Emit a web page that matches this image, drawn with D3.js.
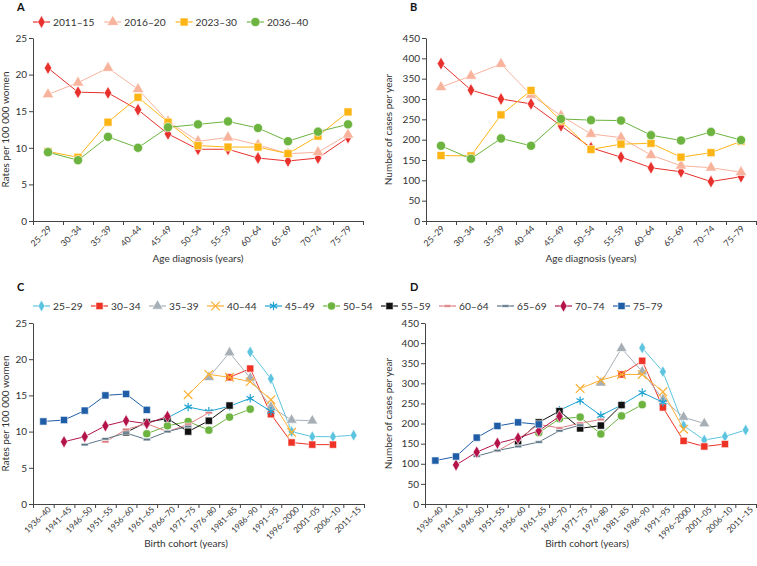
<!DOCTYPE html>
<html><head><meta charset="utf-8">
<script src="https://cdn.jsdelivr.net/npm/d3@7"></script>
<style>
body{margin:0;background:#fff;}
svg text{font-family:Lato,"Open Sans",sans-serif;fill:#333;}
</style>
</head><body>
<svg id="c" width="757" height="566"></svg>
<script>
// ---------- DATA ----------
const ageGroups = ["25–29","30–34","35–39","40–44","45–49","50–54","55–59","60–64","65–69","70–74","75–79"];
const periods = ["2011–15","2016–20","2023–30","2036–40"];

// Panel A: rates per 100 000 women by age at diagnosis
const rateP2011 = [20.9,17.6,17.5,15.2,11.9,9.8,9.8,8.6,8.2,8.6,11.4];
const rateP2016 = [17.3,18.9,20.9,18.0,13.6,10.9,11.4,10.4,9.2,9.4,11.8];
const rateP2023 = [9.5,8.7,13.5,16.9,13.5,10.3,10.1,10.1,9.2,11.6,14.9];
const rateP2036 = [9.4,8.3,11.5,10.0,12.8,13.2,13.6,12.7,10.9,12.2,13.2];

// Panel B: number of cases per year by age at diagnosis
const casesP2011 = [387,322,300,288,234,180,157,131,121,97,109];
const casesP2016 = [329,357,386,310,259,214,205,162,136,131,120];
const casesP2023 = [161,160,261,321,246,176,189,191,157,168,196];
const casesP2036 = [185,153,203,185,251,248,247,211,198,219,199];

// Panels C and D: by birth cohort
const cohorts = ["1936–40","1941–45","1946–50","1951–55","1956–60","1961–65","1966–70","1971–75","1976–80","1981–85","1986–90","1991–95","1996–2000","2001–05","2006–10","2011–15"];
const _ = null;
const rateA2529 = [_,_,_,_,_,_,_,_,_,_,21.0,17.3,10.0,9.3,9.3,9.5];
const rateA3034 = [_,_,_,_,_,_,_,_,_,17.5,18.7,12.4,8.5,8.2,8.2,_];
const rateA3539 = [_,_,_,_,_,_,_,_,17.5,20.9,17.4,13.4,11.6,11.5,_,_];
const rateA4044 = [_,_,_,_,_,_,_,15.1,17.9,17.5,16.9,14.4,9.9,_,_,_];
const rateA4549 = [_,_,_,_,_,_,11.9,13.4,12.8,13.5,14.6,12.8,_,_,_,_];
const rateA5054 = [_,_,_,_,_,9.7,10.8,11.4,10.2,12.0,13.1,_,_,_,_,_];
const rateA5559 = [_,_,_,_,9.9,11.3,11.8,10.0,11.5,13.6,_,_,_,_,_,_];
const rateA6064 = [_,_,_,8.6,10.3,11.1,10.0,11.0,12.6,_,_,_,_,_,_,_];
const rateA6569 = [_,_,8.2,9.0,9.8,8.9,10.0,10.7,_,_,_,_,_,_,_,_];
const rateA7074 = [_,8.6,9.3,10.8,11.5,11.1,12.1,_,_,_,_,_,_,_,_,_];
const rateA7579 = [11.4,11.6,12.9,15.0,15.2,13.0,_,_,_,_,_,_,_,_,_,_];

const casesA2529 = [_,_,_,_,_,_,_,_,_,_,388,329,195,159,168,184];
const casesA3034 = [_,_,_,_,_,_,_,_,_,322,356,240,157,143,149,_];
const casesA3539 = [_,_,_,_,_,_,_,_,301,387,329,260,216,200,_,_];
const casesA4044 = [_,_,_,_,_,_,_,287,308,322,322,279,186,_,_,_];
const casesA4549 = [_,_,_,_,_,_,233,257,220,246,277,253,_,_,_,_];
const casesA5054 = [_,_,_,_,_,177,212,216,174,219,247,_,_,_,_,_];
const casesA5559 = [_,_,_,_,156,203,231,188,195,246,_,_,_,_,_,_];
const casesA6064 = [_,_,_,132,161,198,189,201,210,_,_,_,_,_,_,_];
const casesA6569 = [_,_,119,133,143,154,182,196,_,_,_,_,_,_,_,_];
const casesA7074 = [_,97,129,151,164,182,218,_,_,_,_,_,_,_,_,_];
const casesA7579 = [108,118,165,194,203,198,_,_,_,_,_,_,_,_,_,_];

const rateTicks = [0,5,10,15,20,25];
const casesTicks = [0,50,100,150,200,250,300,350,400,450];

// ---------- STYLES ----------
const periodStyle = [
  {color:"#e8302c", shape:"diamond", size:48},
  {color:"#f8b39c", shape:"triangle", size:58},
  {color:"#fdb515", shape:"square", size:64},
  {color:"#6cb43f", shape:"circle", size:66}
];
const ageStyle = [
  {color:"#5cc4df", shape:"diamond", size:40},
  {color:"#ee3226", shape:"square", size:52},
  {color:"#a7afb6", shape:"triangle", size:52},
  {color:"#fbb034", shape:"times", size:50},
  {color:"#1fa3d3", shape:"asterisk", size:50},
  {color:"#6cb43f", shape:"circle", size:52},
  {color:"#111111", shape:"square", size:52},
  {color:"#de7c80", shape:"dash", size:0},
  {color:"#5b7585", shape:"dash", size:0},
  {color:"#b4134a", shape:"diamond", size:44},
  {color:"#1f5ea6", shape:"square", size:52}
];

const svg = d3.select("#c");

function symPath(shape, size){
  if(shape==="dash") return "M-3.6,-1.3h7.2v2.6h-7.2z";
  const t = {diamond:d3.symbolDiamond, triangle:d3.symbolTriangle, square:d3.symbolSquare,
             circle:d3.symbolCircle, times:d3.symbolTimes||d3.symbolCross, asterisk:d3.symbolAsterisk||d3.symbolCross}[shape];
  return d3.symbol(t, size)();
}
function styleMarker(sel, st){
  const stroked = st.shape==="times"||st.shape==="asterisk";
  sel.attr("d", symPath(st.shape, st.size))
     .attr("fill", stroked ? "none" : st.color)
     .attr("stroke", stroked ? st.color : "#fff")
     .attr("stroke-width", stroked ? 1.2 : 0.6);
}

function panel(cfg){
  const g = svg.append("g");
  const n = cfg.cats.length;
  const x = d3.scalePoint().domain(cfg.cats).range([cfg.x0, cfg.x1]).padding(0.5);
  const xi = d3.scaleLinear().domain([0,n]).range([cfg.x0, cfg.x1]);
  const y = d3.scaleLinear().domain([0, d3.max(cfg.yTicks)]).range([cfg.y1, cfg.y0]);

  const ya = g.append("g").attr("transform",`translate(${cfg.x0},0)`)
    .call(d3.axisLeft(y).tickValues(cfg.yTicks).tickSize(4).tickPadding(2).tickSizeOuter(0));
  const xa = g.append("g").attr("transform",`translate(0,${cfg.y1})`)
    .call(d3.axisBottom(xi).tickValues(d3.range(0,n+1)).tickSize(4).tickFormat("").tickSizeOuter(0));
  [ya,xa].forEach(a=>{
    a.selectAll("path,line").attr("stroke","#444").attr("stroke-width",1);
    a.selectAll("text").attr("font-size",10).attr("fill","#333").style("font-family",'Lato,"Open Sans",sans-serif');
  });

  g.append("g").selectAll("text").data(cfg.cats).join("text")
    .attr("transform", d=>`translate(${x(d)+cfg.lx},${cfg.y1+cfg.ly}) rotate(-45)`)
    .attr("text-anchor","end").attr("dy","0.35em").attr("font-size",cfg.lfs).text(d=>d);

  g.append("text").attr("x", cfg.xtx).attr("y", cfg.xty).attr("text-anchor","middle")
    .attr("font-size",10).text(cfg.xTitle);
  g.append("text").attr("transform",`translate(${cfg.ytx},${(cfg.y0+cfg.y1)/2}) rotate(-90)`)
    .attr("text-anchor","middle").attr("font-size",10).text(cfg.yTitle);
  g.append("text").attr("x", cfg.px).attr("y", cfg.py).attr("font-size",11)
    .attr("font-weight","bold").style("fill","#111").text(cfg.label);

  const line = d3.line().defined(d=>d.v!=null).x(d=>x(d.c)).y(d=>y(d.v));
  cfg.series.forEach((s,k)=>{
    const st = cfg.styles[k];
    const pts = s.map((v,i)=>({c:cfg.cats[i], v}));
    g.append("path").datum(pts).attr("d", line).attr("fill","none")
      .attr("stroke", st.color).attr("stroke-width",1);
    g.append("g").selectAll("path").data(pts.filter(d=>d.v!=null)).join("path")
      .attr("transform", d=>`translate(${x(d.c)},${y(d.v)})`).call(sel=>styleMarker(sel, st));
  });
}

function legend(names, styles, x0, step, yy){
  const g = svg.append("g");
  names.forEach((nm,i)=>{
    const st = styles[i];
    const xx = x0 + i*step;
    g.append("line").attr("x1",xx).attr("x2",xx+17).attr("y1",yy).attr("y2",yy)
      .attr("stroke",st.color).attr("stroke-width",1.2);
    g.append("path").attr("transform",`translate(${xx+8.5},${yy})`).call(sel=>styleMarker(sel, st));
    g.append("text").attr("x",xx+20).attr("y",yy).attr("dy","0.35em").attr("font-size",10.2).text(nm);
  });
}

const yTitleRate = "Rates per 100 000 women";
const yTitleCases = "Number of cases per year";

panel({label:"A", px:17, py:11, x0:33, x1:363, y0:38, y1:221, cats:ageGroups, yTicks:rateTicks,
  lx:2, ly:6, lfs:8.7, xTitle:"Age diagnosis (years)", xtx:198, xty:262, yTitle:yTitleRate, ytx:9,
  series:[rateP2011,rateP2016,rateP2023,rateP2036], styles:periodStyle});
panel({label:"B", px:410, py:11, x0:426, x1:756, y0:38, y1:221, cats:ageGroups, yTicks:casesTicks,
  lx:2, ly:6, lfs:8.7, xTitle:"Age diagnosis (years)", xtx:591, xty:262, yTitle:yTitleCases, ytx:392,
  series:[casesP2011,casesP2016,casesP2023,casesP2036], styles:periodStyle});
panel({label:"C", px:17, py:291, x0:33, x1:364, y0:323, y1:504, cats:cohorts, yTicks:rateTicks,
  lx:6, ly:4, lfs:8.2, xTitle:"Birth cohort (years)", xtx:186, xty:547, yTitle:yTitleRate, ytx:9,
  series:[rateA2529,rateA3034,rateA3539,rateA4044,rateA4549,rateA5054,rateA5559,rateA6064,rateA6569,rateA7074,rateA7579], styles:ageStyle});
panel({label:"D", px:410, py:291, x0:425, x1:756, y0:323, y1:504, cats:cohorts, yTicks:casesTicks,
  lx:6, ly:4, lfs:8.2, xTitle:"Birth cohort (years)", xtx:587, xty:547, yTitle:yTitleCases, ytx:392,
  series:[casesA2529,casesA3034,casesA3539,casesA4044,casesA4549,casesA5054,casesA5559,casesA6064,casesA6569,casesA7074,casesA7579], styles:ageStyle});

legend(periods, periodStyle, 33, 71.3, 22);
legend(ageGroups, ageStyle, 33, 58, 306);
</script>
</body></html>
